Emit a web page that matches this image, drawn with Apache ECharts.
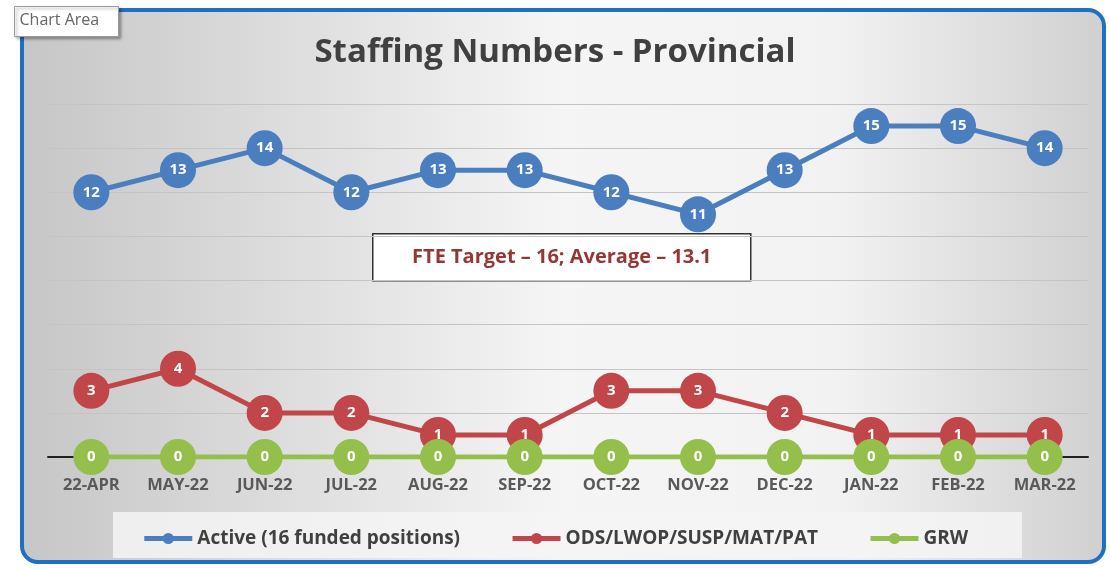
<!DOCTYPE html>
<html>
<head>
<meta charset="utf-8">
<script src="https://cdn.jsdelivr.net/npm/echarts@6/dist/echarts.min.js"></script>
<style>
  html, body { margin: 0; padding: 0; background: #ffffff; }
  #chart1 { width: 1110px; height: 569px; }
</style>
</head>
<body>
<div id="chart1"></div>
<script>
var months = ['22-APR', 'MAY-22', 'JUN-22', 'JUL-22', 'AUG-22', 'SEP-22',
              'OCT-22', 'NOV-22', 'DEC-22', 'JAN-22', 'FEB-22', 'MAR-22'];
var activeData = [12, 13, 14, 12, 13, 13, 12, 11, 13, 15, 15, 14];
var odsData = [3, 4, 2, 2, 1, 1, 3, 3, 2, 1, 1, 1];
var grwData = [0, 0, 0, 0, 0, 0, 0, 0, 0, 0, 0, 0];
var seriesNames = ['Active (16 funded positions)', 'ODS/LWOP/SUSP/MAT/PAT', 'GRW'];
var noteText = 'FTE Target \u2013 16; Average \u2013 13.1';

var font = '"Open Sans", "Liberation Sans", sans-serif';

function lineSeries(name, data, color) {
    return {
        type: 'line',
        name: name,
        data: data,
        symbol: 'circle',
        symbolSize: 36,
        lineStyle: { color: color, width: 5 },
        itemStyle: { color: color },
        label: {
            show: true,
            position: 'inside',
            color: '#ffffff',
            fontFamily: font,
            fontWeight: 'bold',
            fontSize: 15
        }
    };
}

var chart = echarts.init(document.getElementById('chart1'));

chart.setOption({
    animation: false,
    graphic: [
        {
            type: 'rect',
            z: -10,
            silent: true,
            shape: { x: 22, y: 10, width: 1082, height: 552, r: 16 },
            style: {
                fill: new echarts.graphic.LinearGradient(0, 0, 1, 0, [
                    { offset: 0, color: '#c6c6c6' },
                    { offset: 0.5, color: '#f5f5f5' },
                    { offset: 0.75, color: '#f2f2f2' },
                    { offset: 1, color: '#d0d0d0' }
                ]),
                stroke: '#1f6fc2',
                lineWidth: 4
            }
        },
        {
            type: 'rect',
            z: -5,
            silent: true,
            shape: { x: 113, y: 512, width: 909, height: 46 },
            style: { fill: 'rgba(245,245,245,0.85)' }
        },
        {
            type: 'group',
            left: 14,
            top: 6,
            z: 20,
            children: [
                {
                    type: 'rect',
                    shape: { x: 0, y: 0, width: 104, height: 30 },
                    style: {
                        fill: '#ffffff', stroke: '#9a9a9a', lineWidth: 1,
                        shadowColor: 'rgba(0,0,0,0.35)', shadowBlur: 3,
                        shadowOffsetX: 2, shadowOffsetY: 2
                    }
                },
                {
                    type: 'text',
                    x: 5, y: 6,
                    style: {
                        text: 'Chart Area', fill: '#666666',
                        font: '16px ' + font
                    }
                }
            ]
        },
        {
            type: 'group',
            left: 372,
            top: 233,
            z: 20,
            children: [
                {
                    type: 'rect',
                    shape: { x: 0, y: 0, width: 378, height: 47 },
                    style: { fill: '#ffffff', stroke: '#333333', lineWidth: 1.5 }
                },
                {
                    type: 'text',
                    x: 189, y: 24,
                    style: {
                        text: noteText, fill: '#953735',
                        font: 'bold 20px ' + font,
                        textAlign: 'center', textVerticalAlign: 'middle'
                    }
                }
            ]
        }
    ],
    title: {
        text: 'Staffing Numbers - Provincial',
        left: 'center',
        top: 31,
        textStyle: {
            color: '#404040',
            fontFamily: font,
            fontWeight: 'bold',
            fontSize: 33
        }
    },
    legend: {
        data: seriesNames,
        bottom: 16,
        left: 'center',
        itemWidth: 48,
        itemHeight: 14,
        itemGap: 50,
        lineStyle: { width: 5 },
        textStyle: {
            color: '#404040',
            fontFamily: font,
            fontWeight: 'bold',
            fontSize: 19
        }
    },
    grid: {
        left: 48,
        right: 22,
        top: 104,
        bottom: 112
    },
    xAxis: {
        type: 'category',
        data: months,
        axisLine: { lineStyle: { color: '#202020', width: 2 } },
        axisTick: { show: false },
        axisLabel: {
            color: '#595959',
            fontFamily: font,
            fontWeight: 'bold',
            fontSize: 16.5,
            margin: 20,
            interval: 0
        }
    },
    yAxis: {
        type: 'value',
        min: 0,
        max: 16,
        interval: 2,
        axisLabel: { show: false },
        axisLine: { show: false },
        axisTick: { show: false },
        splitLine: { lineStyle: { color: '#c4c4c4', width: 1 } }
    },
    series: [
        lineSeries(seriesNames[0], activeData, '#4a7ebf'),
        lineSeries(seriesNames[1], odsData, '#c0464a'),
        lineSeries(seriesNames[2], grwData, '#94bf4c')
    ]
});
</script>
</body>
</html>
